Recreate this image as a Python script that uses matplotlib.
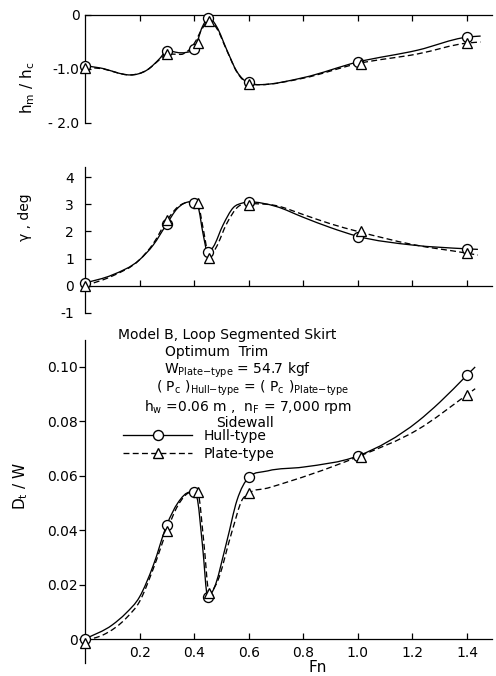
import numpy as np
import matplotlib
matplotlib.use("Agg")
import matplotlib.pyplot as plt
from matplotlib.path import Path
from matplotlib.patches import PathPatch
from matplotlib.lines import Line2D

plt.rcParams["font.family"] = ["DejaVu Sans"]
plt.rcParams["mathtext.default"] = "regular"

# ---------------- measured points ----------------
fn_hull = [0.0, 0.30, 0.40, 0.45, 0.60, 1.00, 1.40]
fn_plate = [0.0, 0.30, 0.415, 0.455, 0.60, 1.01, 1.40]

hm_hull = [-0.94, -0.66, -0.63, -0.06, -1.24, -0.87, -0.41]
hm_plate = [-0.98, -0.72, -0.51, -0.12, -1.28, -0.90, -0.52]

gamma_hull = [0.10, 2.28, 3.05, 1.25, 3.09, 1.80, 1.35]
gamma_plate = [0.00, 2.43, 3.05, 1.03, 2.98, 2.03, 1.20]

dw_hull = [0.0000, 0.0420, 0.0540, 0.0155, 0.0594, 0.0673, 0.0970]
dw_plate = [-0.0015, 0.0398, 0.0540, 0.0170, 0.0535, 0.0670, 0.0898]

# ---------------- faired curves ----------------
hm_curve_fn = [0.0, 0.055, 0.165, 0.227, 0.275, 0.30, 0.35, 0.40, 0.43, 0.455,
               0.483, 0.52, 0.557, 0.60, 0.64, 0.80, 1.00, 1.22, 1.40, 1.45]
hm_curve_hull = [-0.94, -0.98, -1.11, -1.02, -0.80, -0.66, -0.70, -0.63, -0.22, -0.05,
                 -0.22, -0.65, -1.05, -1.26, -1.29, -1.16, -0.87, -0.65, -0.41, -0.39]
hm_curve_plate = [-0.97, -0.99, -1.11, -1.02, -0.82, -0.72, -0.73, -0.53, -0.25, -0.10,
                  -0.25, -0.66, -1.06, -1.27, -1.29, -1.17, -0.90, -0.72, -0.52, -0.50]

gamma_curve_fn_hull = [0.0, 0.10, 0.20, 0.25, 0.30, 0.337, 0.385, 0.415, 0.432, 0.45,
                       0.47, 0.506, 0.543, 0.579, 0.60, 0.70, 0.80, 0.90, 1.00, 1.20, 1.40, 1.44]
gamma_curve_hull = [0.10, 0.40, 0.96, 1.50, 2.28, 2.83, 3.09, 2.87, 1.95, 1.22,
                    1.43, 2.24, 2.87, 3.05, 3.09, 2.92, 2.52, 2.14, 1.82, 1.50, 1.36, 1.34]
gamma_curve_fn_plate = [0.0, 0.10, 0.20, 0.25, 0.30, 0.34, 0.39, 0.415, 0.435, 0.455,
                        0.48, 0.52, 0.56, 0.60, 0.70, 0.80, 0.90, 1.00, 1.20, 1.40, 1.44]
gamma_curve_plate = [0.00, 0.36, 0.96, 1.55, 2.40, 2.90, 3.08, 2.95, 2.00, 1.05,
                     1.40, 2.30, 2.90, 3.02, 2.95, 2.62, 2.28, 2.00, 1.52, 1.20, 1.13]

dw_curve_fn_hull = [0.0, 0.10, 0.15, 0.20, 0.25, 0.30, 0.34, 0.385, 0.41, 0.43, 0.45, 0.47,
                    0.52, 0.557, 0.60, 0.67, 0.80, 1.00, 1.22, 1.30, 1.40, 1.43]
dw_curve_hull = [0.0, 0.0052, 0.0095, 0.0155, 0.0270, 0.042, 0.050, 0.054, 0.052, 0.035, 0.0155, 0.018,
                 0.036, 0.051, 0.0594, 0.0618, 0.0632, 0.0673, 0.080, 0.087, 0.097, 0.100]
dw_curve_fn_plate = [0.0, 0.066, 0.154, 0.20, 0.25, 0.30, 0.34, 0.39, 0.415, 0.435, 0.455, 0.48,
                     0.54, 0.575, 0.60, 0.67, 1.00, 1.22, 1.40, 1.43]
dw_curve_plate = [-0.0005, 0.0015, 0.008, 0.0138, 0.0258, 0.0398, 0.049, 0.054, 0.053, 0.036, 0.017, 0.020,
                  0.040, 0.051, 0.0535, 0.0555, 0.067, 0.077, 0.0898, 0.092]

x_ticks = [0.2, 0.4, 0.6, 0.8, 1.0, 1.2, 1.4]
x_tick_labels = ["0.2", "0.4", "0.6", "0.8", "1.0", "1.2", "1.4"]
hm_ticks = [0.0, -1.0, -2.0]
hm_tick_labels = ["0", "-1.0", "- 2.0"]
gamma_ticks = [4, 3, 2, 1, 0, -1]
gamma_tick_labels = ["4", "3", "2", "1", "0", "-1"]
dw_ticks = [0.10, 0.08, 0.06, 0.04, 0.02, 0.0]
dw_tick_labels = ["0.10", "0.08", "0.06", "0.04", "0.02", "0"]

FS = 10
LW = 0.95


def knot_slopes(x, y):
    """Three-point slopes, flattened at turning points and limited to avoid overshoot."""
    x = np.asarray(x, float)
    y = np.asarray(y, float)
    h = np.diff(x)
    d = np.diff(y) / h
    m = np.zeros_like(y)
    m[0], m[-1] = d[0], d[-1]
    for k in range(1, len(x) - 1):
        if d[k - 1] * d[k] <= 0:
            m[k] = 0.0
        else:
            c = (h[k] * d[k - 1] + h[k - 1] * d[k]) / (h[k - 1] + h[k])
            lim = 3 * min(abs(d[k - 1]), abs(d[k]))
            m[k] = np.sign(c) * min(abs(c), lim)
    return m


def faired_path(x, y):
    """Smooth Bezier path through the fairing points."""
    x = np.asarray(x, float)
    y = np.asarray(y, float)
    m = knot_slopes(x, y)
    verts = [(x[0], y[0])]
    codes = [Path.MOVETO]
    for i in range(len(x) - 1):
        h = x[i + 1] - x[i]
        verts += [(x[i] + h / 3, y[i] + m[i] * h / 3),
                  (x[i + 1] - h / 3, y[i + 1] - m[i + 1] * h / 3),
                  (x[i + 1], y[i + 1])]
        codes += [Path.CURVE4] * 3
    return Path(verts, codes)


def draw_series(ax, cx, cy, mx, my, marker, dashed):
    ls = (0, (4.5, 2.5)) if dashed else "-"
    ax.add_patch(PathPatch(faired_path(cx, cy), fill=False, lw=LW,
                           ls=ls, ec="black", zorder=2))
    ax.plot(mx, my, ls="none", marker=marker, ms=7.2 if marker == "o" else 7.6,
            mfc="white", mec="black", mew=0.95, zorder=3, clip_on=False)


W, H = 496, 676
fig = plt.figure(figsize=(W / 100, H / 100), dpi=100)


def fx(px):
    return px / W


def fy(py):
    return 1 - py / H


LEFT, RIGHT = 85, 492
XMAX = (RIGHT - LEFT) / ((467 - LEFT) / 1.4)


def make_axes(top, bottom):
    ax = fig.add_axes([fx(LEFT), fy(bottom), (RIGHT - LEFT) / W, (bottom - top) / H])
    ax.set_xlim(0, XMAX)
    ax.patch.set_visible(False)
    for s in ax.spines.values():
        s.set_linewidth(0.9)
    return ax


# ---------- h_m / h_c ----------
ax1 = make_axes(15, 123)
ax1.set_ylim(-2.0, 0.0)
ax1.spines["bottom"].set_visible(False)
ax1.spines["right"].set_visible(False)
ax1.xaxis.tick_top()
ax1.set_xticks(x_ticks)
ax1.tick_params(axis="x", direction="in", length=4, width=0.9, labeltop=False)
ax1.set_yticks(hm_ticks)
ax1.set_yticklabels(hm_tick_labels)
ax1.tick_params(axis="y", direction="in", length=4, width=0.9, pad=4, labelsize=FS)
draw_series(ax1, hm_curve_fn, hm_curve_hull, fn_hull, hm_hull, "o", False)
draw_series(ax1, hm_curve_fn, hm_curve_plate, fn_plate, hm_plate, "^", True)

# ---------- gamma ----------
ax2 = make_axes(167, 313)
ax2.set_ylim(-1.0, 4.37)
ax2.spines["top"].set_visible(False)
ax2.spines["right"].set_visible(False)
ax2.spines["bottom"].set_position(("data", 0))
ax2.set_xticks(x_ticks)
ax2.tick_params(axis="x", direction="in", length=4, width=0.9, labelbottom=False)
ax2.set_yticks(gamma_ticks)
ax2.set_yticklabels(gamma_tick_labels)
ax2.tick_params(axis="y", direction="in", length=4, width=0.9, pad=8, labelsize=FS)
draw_series(ax2, gamma_curve_fn_hull, gamma_curve_hull, fn_hull, gamma_hull, "o", False)
draw_series(ax2, gamma_curve_fn_plate, gamma_curve_plate, fn_plate, gamma_plate, "^", True)

# ---------- D_t / W ----------
ax3 = make_axes(340, 663)
ax3.set_ylim(-0.0088, 0.1099)
ax3.spines["top"].set_visible(False)
ax3.spines["right"].set_visible(False)
ax3.spines["bottom"].set_position(("data", 0))
ax3.set_xticks(x_ticks)
ax3.set_xticklabels(x_tick_labels)
ax3.tick_params(axis="x", direction="in", length=4, width=0.9, pad=5, labelsize=FS)
ax3.set_yticks(dw_ticks)
ax3.set_yticklabels(dw_tick_labels)
ax3.tick_params(axis="y", direction="out", length=4, width=0.9, pad=1, labelsize=FS)
draw_series(ax3, dw_curve_fn_hull, dw_curve_hull, fn_hull, dw_hull, "o", False)
draw_series(ax3, dw_curve_fn_plate, dw_curve_plate, fn_plate, dw_plate, "^", True)

# axis titles
fig.text(fx(28), fy(88), "h$_m$ / h$_c$", rotation=90, ha="center", va="center", fontsize=FS + 1)
fig.text(fx(25), fy(217), "γ , deg", rotation=90, ha="center", va="center", fontsize=FS)
fig.text(fx(21), fy(486), "D$_t$ / W", rotation=90, ha="center", va="center", fontsize=FS + 1)
fig.text(fx(318), fy(668), "Fn", ha="center", va="center", fontsize=FS + 1)

# test conditions
notes = [
    ("Model B, Loop Segmented Skirt", 227, 335),
    ("Optimum  Trim", 217, 352),
    ("W$_{Plate{-}type}$ = 54.7 kgf", 238, 370),
    ("( P$_c$ )$_{Hull{-}type}$ = ( P$_c$ )$_{Plate{-}type}$", 253, 388),
    ("h$_w$ =0.06 m ,  n$_F$ = 7,000 rpm", 248, 407),
    ("Sidewall", 245, 423),
]
for text, cx, cy in notes:
    fig.text(fx(cx), fy(cy), text, ha="center", va="center", fontsize=FS)

handles = [
    Line2D([], [], color="black", lw=LW, marker="o", ms=7.2, mfc="white", mec="black"),
    Line2D([], [], color="black", lw=LW, ls=(0, (4.5, 2.5)), marker="^", ms=7.6,
           mfc="white", mec="black"),
]
fig.legend(handles, ["Hull-type", "Plate-type"], loc="upper left",
           bbox_to_anchor=(fx(123), fy(429)), frameon=False, fontsize=FS,
           handlelength=5.0, handletextpad=0.8, labelspacing=0.28,
           borderpad=0, borderaxespad=0, numpoints=1)

fig.savefig("out.png", dpi=100)
